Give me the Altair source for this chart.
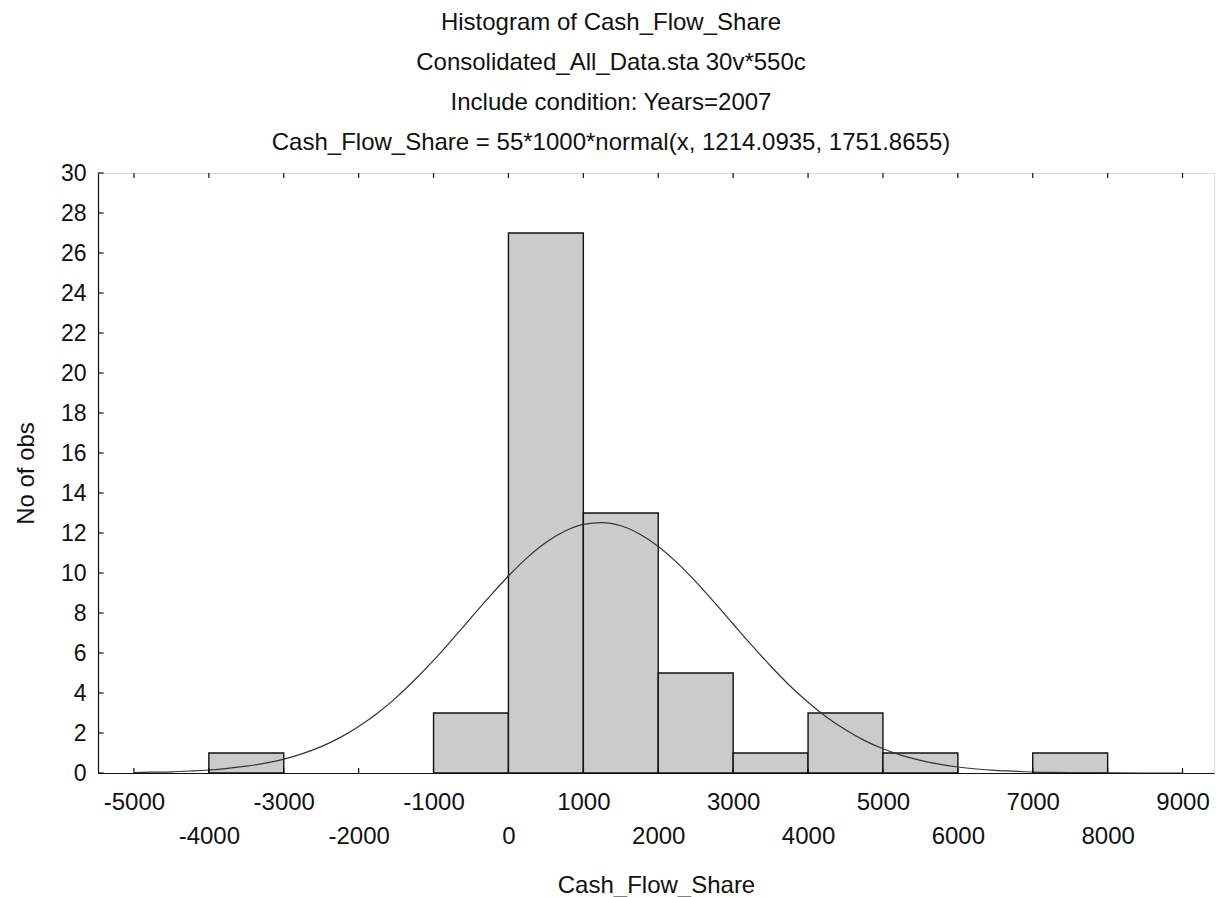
import altair as alt
import pandas as pd

# Histogram bins (Cash_Flow_Share) and counts
bin_start = [-4000, -1000, 0, 1000, 2000, 3000, 4000, 5000, 7000]
bin_end = [-3000, 0, 1000, 2000, 3000, 4000, 5000, 6000, 8000]
counts = [1, 3, 27, 13, 5, 1, 3, 1, 1]

# Fitted normal curve
curve_x = [-5000, -4750, -4500, -4250, -4000, -3750, -3500, -3250, -3000, -2750,
           -2500, -2250, -2000, -1750, -1500, -1250, -1000, -750, -500, -250,
           0, 250, 500, 750, 1000, 1250, 1500, 1750, 2000, 2250,
           2500, 2750, 3000, 3250, 3500, 3750, 4000, 4250, 4500, 4750,
           5000, 5250, 5500, 5750, 6000, 6250, 6500, 6750, 7000, 7250,
           7500, 8000, 8500, 9000]
curve_y = [0.02, 0.04, 0.06, 0.10, 0.15, 0.23, 0.34, 0.49, 0.69, 0.97,
           1.32, 1.77, 2.33, 2.99, 3.77, 4.66, 5.63, 6.68, 7.76, 8.83,
           9.85, 10.77, 11.53, 12.09, 12.43, 12.52, 12.36, 11.95, 11.33, 10.52,
           9.57, 8.53, 7.45, 6.38, 5.35, 4.39, 3.54, 2.79, 2.16, 1.63,
           1.21, 0.88, 0.63, 0.44, 0.30, 0.20, 0.13, 0.09, 0.05, 0.03,
           0.02, 0.01, 0.0, 0.0]

x_ticks = list(range(-5000, 9001, 1000))
y_ticks = list(range(0, 31, 2))

title_lines = [
    "Histogram of Cash_Flow_Share",
    "Consolidated_All_Data.sta 30v*550c",
    "Include condition: Years=2007",
    "Cash_Flow_Share = 55*1000*normal(x, 1214.0935, 1751.8655)",
]

X_MIN, X_MAX = -5480, 9420
FONT = "Liberation Sans"
FS = 24

bars_df = pd.DataFrame({"start": bin_start, "end": bin_end, "count": counts,
                        "zero": [0] * len(counts)})
curve_df = pd.DataFrame({"x": curve_x, "y": curve_y})
xt_df = pd.DataFrame({"v": x_ticks, "y0": [0] * len(x_ticks), "y1": [0.25] * len(x_ticks)})
xt_top_df = pd.DataFrame({"v": x_ticks, "y0": [30] * len(x_ticks), "y1": [29.75] * len(x_ticks)})
yt_df = pd.DataFrame({"v": y_ticks, "x0": [X_MIN] * len(y_ticks), "x1": [X_MIN + 75] * len(y_ticks)})

xscale = alt.Scale(domain=[X_MIN, X_MAX], nice=False, zero=False)
yscale = alt.Scale(domain=[0, 30], nice=False)

xaxis = alt.Axis(
    values=x_ticks,
    labelExpr="datum.value % 2000 == 0 ? ['', '' + datum.value] : ['' + datum.value]",
    labelFont=FONT, labelFontSize=FS, labelColor="#111",
    labelLineHeight=34, labelPadding=17, labelOverlap=False, labelFlush=False,
    labelBaseline="top",
    ticks=False, grid=False, domainColor="#111", domainWidth=1.2,
    title="Cash_Flow_Share", titleFont=FONT, titleFontSize=FS,
    titleFontWeight="normal", titleColor="#111", titlePadding=25,
)
yaxis = alt.Axis(
    values=y_ticks, format="d",
    labelFont=FONT, labelFontSize=23, labelColor="#111", labelPadding=12,
    labelOverlap=False, labelFlush=False,
    ticks=False, grid=False, domainColor="#111", domainWidth=1.2,
    title="No of obs", titleFont=FONT, titleFontSize=FS,
    titleFontWeight="normal", titleColor="#111", titlePadding=22,
)

bars = alt.Chart(bars_df).mark_rect(
    fill="#cbcbcb", stroke="#111", strokeWidth=1.4
).encode(
    x=alt.X("start:Q", scale=xscale, axis=xaxis),
    x2="end:Q",
    y=alt.Y("count:Q", scale=yscale, axis=yaxis),
    y2="zero:Q",
)

curve = alt.Chart(curve_df).mark_line(
    color="#333", strokeWidth=1.2, interpolate="monotone", clip=True
).encode(
    x=alt.X("x:Q", scale=xscale, axis=xaxis),
    y=alt.Y("y:Q", scale=yscale, axis=yaxis),
)

xt = alt.Chart(xt_df).mark_rule(color="#111", strokeWidth=1.2).encode(
    x=alt.X("v:Q", scale=xscale, axis=xaxis),
    y=alt.Y("y0:Q", scale=yscale, axis=yaxis), y2="y1:Q"
)
xt_top = alt.Chart(xt_top_df).mark_rule(color="#111", strokeWidth=1.2).encode(
    x=alt.X("v:Q", scale=xscale, axis=xaxis),
    y=alt.Y("y0:Q", scale=yscale, axis=yaxis), y2="y1:Q"
)
yt = alt.Chart(yt_df).mark_rule(color="#111", strokeWidth=1.2).encode(
    y=alt.Y("v:Q", scale=yscale, axis=yaxis),
    x=alt.X("x0:Q", scale=xscale, axis=xaxis), x2="x1:Q"
)

chart = alt.layer(bars, curve, xt, xt_top, yt).properties(
    width=1116, height=600,
    autosize=alt.AutoSizeParams(type="none"),
    padding={"left": 98, "top": 173, "right": 2, "bottom": 124},
    title=alt.TitleParams(
        text=title_lines, font=FONT, fontSize=FS, fontWeight="normal",
        color="#111", lineHeight=40, anchor="middle", offset=7, dx=-45,
    ),
).configure_view(
    stroke="#111", strokeWidth=1.2
).configure_axis(
    labelOverlap=False, labelFlush=False
).configure(background="white")

chart.save("out.html", embed_options={"renderer": "svg", "actions": False})
